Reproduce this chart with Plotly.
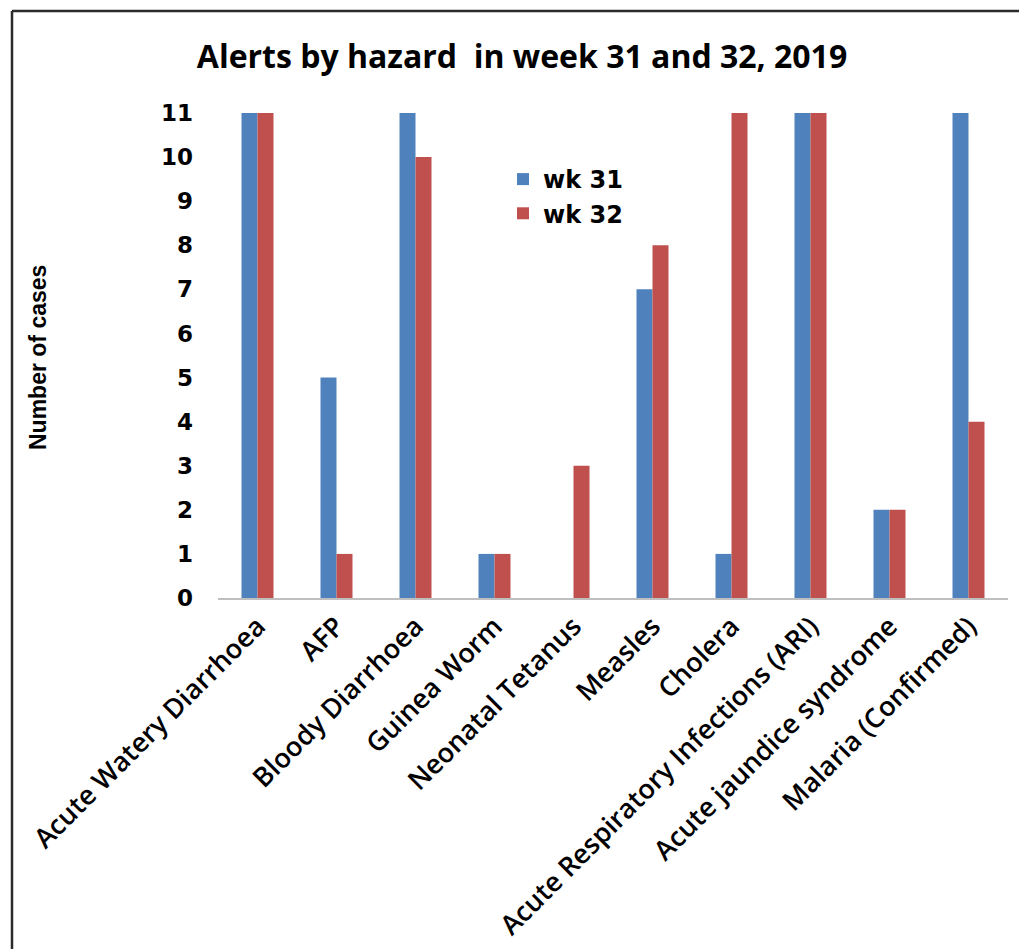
import plotly.graph_objects as go

# Alert counts per hazard for two reporting weeks
hazards = [
    "Acute Watery Diarrhoea",
    "AFP",
    "Bloody Diarrhoea",
    "Guinea Worm",
    "Neonatal Tetanus",
    "Measles",
    "Cholera",
    "Acute Respiratory Infections (ARI)",
    "Acute jaundice syndrome",
    "Malaria (Confirmed)",
]
wk31 = [11, 5, 11, 1, 0, 7, 1, 11, 2, 11]
wk32 = [11, 1, 10, 1, 3, 8, 11, 11, 2, 4]
y_ticks = list(range(0, 12))

W, H = 1019, 949
ML, MR, MT, MB = 218, 11, 113, 351
PW, PH = W - ML - MR, H - MT - MB


def px_x(p):
    return (p - ML) / PW


def px_y(p):
    return (H - MB - p) / PH


fig = go.Figure()
fig.add_trace(go.Bar(name="wk 31", x=hazards, y=wk31,
                     marker=dict(color="#4F81BD", line=dict(width=0))))
fig.add_trace(go.Bar(name="wk 32", x=hazards, y=wk32,
                     marker=dict(color="#C0504D", line=dict(width=0))))

fig.update_layout(
    width=W, height=H,
    margin=dict(l=ML, r=MR, t=MT, b=MB, autoexpand=False),
    paper_bgcolor="white", plot_bgcolor="white",
    barmode="group", bargap=0.595, bargroupgap=0,
    title=dict(
        text="<b>Alerts by hazard&nbsp; in week 31 and 32, 2019</b>",
        x=522 / W, xanchor="center", xref="container",
        y=1 - 57 / H, yanchor="middle", yref="container",
        font=dict(family="Open Sans", size=32, color="#000000"),
    ),
    legend=dict(
        x=px_x(503), y=px_y(157), xanchor="left", yanchor="top",
        bgcolor="rgba(0,0,0,0)",
        font=dict(family="DejaVu Sans", size=24, color="#000000", weight="bold"),
        tracegroupgap=4, itemwidth=30,
    ),
    xaxis=dict(
        showline=True, linecolor="#BFBFBF", linewidth=1.5,
        showgrid=False, ticks="", tickangle=-45,
        tickfont=dict(family="Open Sans", size=27, color="#000000", weight=600),
    ),
    yaxis=dict(
        range=[0, 11], tickvals=y_ticks, showgrid=False, zeroline=False,
        showline=False, ticks="", ticklabelstandoff=24,
        tickfont=dict(family="DejaVu Sans", size=23, color="#000000", weight="bold"),
    ),
)

fig.add_annotation(
    text="<b>Number of cases</b>", textangle=-90,
    x=px_x(38), y=px_y(358), xref="paper", yref="paper",
    xanchor="center", yanchor="middle", showarrow=False,
    font=dict(family="Liberation Sans, Arial", size=23, color="#000000"),
)

# Outer frame (top and left edges)
frame = dict(color="#2b2b2b", width=2.5)
fig.add_shape(type="line", xref="paper", yref="paper",
              x0=px_x(12), x1=px_x(W + 5), y0=px_y(11), y1=px_y(11), line=frame)
fig.add_shape(type="line", xref="paper", yref="paper",
              x0=px_x(12), x1=px_x(12), y0=px_y(11), y1=px_y(H + 5), line=frame)

fig.write_html("out.html")
